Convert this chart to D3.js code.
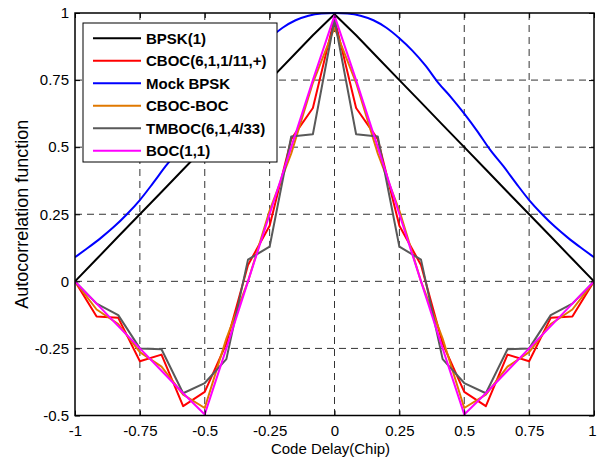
<!DOCTYPE html>
<html>
<head>
<meta charset="utf-8">
<script src="https://cdn.jsdelivr.net/npm/d3@7"></script>
<style>
  html, body { margin: 0; padding: 0; background: #fff; }
  svg { display: block; }
  text { font-family: "Liberation Sans", Arial, Helvetica, sans-serif; fill: #000; }
</style>
</head>
<body>
<svg id="chart" width="597" height="459"></svg>
<script>
// ---------------- DATA ----------------
// code delay samples (chip), 1/12-chip spacing
const delays = [-1, -0.9167, -0.8333, -0.75, -0.6667, -0.5833, -0.5, -0.4167, -0.3333, -0.25, -0.1667, -0.0833,
                0, 0.0833, 0.1667, 0.25, 0.3333, 0.4167, 0.5, 0.5833, 0.6667, 0.75, 0.8333, 0.9167, 1];

const bpsk   = [0, 0.083, 0.167, 0.25, 0.333, 0.417, 0.5, 0.583, 0.667, 0.75, 0.833, 0.917,
                0.995, 0.917, 0.833, 0.75, 0.667, 0.583, 0.5, 0.417, 0.333, 0.25, 0.167, 0.083, 0];
const cboc   = [0, -0.131, -0.136, -0.298, -0.273, -0.465, -0.412, -0.232, 0.061, 0.207, 0.530, 0.646,
                0.98, 0.646, 0.530, 0.207, 0.061, -0.232, -0.412, -0.465, -0.273, -0.298, -0.136, -0.131, 0];
const cbocBoc= [0, -0.105, -0.159, -0.264, -0.318, -0.422, -0.472, -0.213, 0, 0.264, 0.477, 0.740,
                0.945, 0.740, 0.477, 0.264, 0, -0.213, -0.472, -0.422, -0.318, -0.264, -0.159, -0.105, 0];
const tmboc  = [0, -0.083, -0.126, -0.250, -0.253, -0.417, -0.379, -0.290, 0.081, 0.129, 0.540, 0.548,
                0.975, 0.548, 0.540, 0.129, 0.081, -0.290, -0.379, -0.417, -0.253, -0.250, -0.126, -0.083, 0];
const boc11  = [0, -0.083, -0.167, -0.25, -0.333, -0.417, -0.496, -0.25, 0, 0.25, 0.5, 0.75,
                0.99, 0.75, 0.5, 0.25, 0, -0.25, -0.496, -0.417, -0.333, -0.25, -0.167, -0.083, 0];

// Mock BPSK sampled every 0.05 chip
const mockDelays = [-1, -0.95, -0.9, -0.85, -0.8, -0.75, -0.7, -0.65, -0.6, -0.55, -0.5, -0.45, -0.4, -0.35, -0.3,
                    -0.25, -0.2, -0.15, -0.1, -0.05, 0, 0.05, 0.1, 0.15, 0.2, 0.25, 0.3, 0.35, 0.4, 0.45, 0.5,
                    0.55, 0.6, 0.65, 0.7, 0.75, 0.8, 0.85, 0.9, 0.95, 1];
const mockBpsk   = [0.09, 0.125, 0.162, 0.203, 0.25, 0.303, 0.365, 0.43, 0.49, 0.56, 0.625, 0.685, 0.74, 0.805, 0.86,
                    0.906, 0.945, 0.973, 0.99, 0.998, 1.0, 0.998, 0.99, 0.973, 0.945, 0.906, 0.86, 0.805, 0.74, 0.685, 0.625,
                    0.56, 0.49, 0.43, 0.365, 0.303, 0.25, 0.203, 0.162, 0.125, 0.09];

const seriesNames  = ["BPSK(1)", "CBOC(6,1,1/11,+)", "Mock BPSK", "CBOC-BOC", "TMBOC(6,1,4/33)", "BOC(1,1)"];
const seriesColors = ["#000000", "#ff0000", "#0000ff", "#e07800", "#595959", "#ff00ff"];

const xTicks = [-1, -0.75, -0.5, -0.25, 0, 0.25, 0.5, 0.75, 1];
const xTickLabels = ["-1", "-0.75", "-0.5", "-0.25", "0", "0.25", "0.5", "0.75", "1"];
const yTicks = [-0.5, -0.25, 0, 0.25, 0.5, 0.75, 1];
const yTickLabels = ["-0.5", "-0.25", "0", "0.25", "0.5", "0.75", "1"];

const xLabel = "Code Delay(Chip)";
const yLabel = "Autocorrelation function";

// ---------------- CHART ----------------
const svg = d3.select("#chart");
const L = 75, R = 594, T = 13, B = 415.5;

const x = d3.scaleLinear().domain([-1, 1]).range([L, R]);
const y = d3.scaleLinear().domain([-0.5, 1]).range([B, T]);

// grid
const grid = svg.append("g");
grid.selectAll("line.vg").data(xTicks.slice(1, -1)).enter().append("line")
  .attr("x1", d => x(d)).attr("x2", d => x(d)).attr("y1", T).attr("y2", B)
  .attr("stroke", "#333").attr("stroke-width", 1).attr("stroke-dasharray", "7,5");
grid.selectAll("line.hg").data(yTicks.slice(1, -1)).enter().append("line")
  .attr("y1", d => y(d)).attr("y2", d => y(d)).attr("x1", L).attr("x2", R)
  .attr("stroke", "#333").attr("stroke-width", 1).attr("stroke-dasharray", "7,5");

// clip
svg.append("clipPath").attr("id", "clip").append("rect")
  .attr("x", L).attr("y", T - 2).attr("width", R - L).attr("height", B - T + 4);

const plot = svg.append("g").attr("clip-path", "url(#clip)");
const line = d3.line().x(d => x(d[0])).y(d => y(d[1]));
const smooth = d3.line().x(d => x(d[0])).y(d => y(d[1])).curve(d3.curveMonotoneX);

const series = [
  delays.map((d, i) => [d, bpsk[i]]),
  delays.map((d, i) => [d, cboc[i]]),
  mockDelays.map((d, i) => [d, mockBpsk[i]]),
  delays.map((d, i) => [d, cbocBoc[i]]),
  delays.map((d, i) => [d, tmboc[i]]),
  delays.map((d, i) => [d, boc11[i]])
];
series.forEach((s, i) => {
  plot.append("path").datum(s)
    .attr("d", i === 2 ? smooth : line)
    .attr("fill", "none").attr("stroke", seriesColors[i])
    .attr("stroke-width", 2).attr("stroke-linejoin", "round");
});

// axes
const axB = svg.append("g").attr("transform", `translate(0,${B})`)
  .call(d3.axisBottom(x).tickValues(xTicks).tickFormat((d, i) => xTickLabels[i]).tickSize(-5).tickPadding(10));
const axT = svg.append("g").attr("transform", `translate(0,${T})`)
  .call(d3.axisTop(x).tickValues(xTicks).tickFormat("").tickSize(-5));
const axL = svg.append("g").attr("transform", `translate(${L},0)`)
  .call(d3.axisLeft(y).tickValues(yTicks).tickFormat((d, i) => yTickLabels[i]).tickSize(-5).tickPadding(6));
const axR = svg.append("g").attr("transform", `translate(${R},0)`)
  .call(d3.axisRight(y).tickValues(yTicks).tickFormat("").tickSize(-5));
[axB, axT, axL, axR].forEach(a => {
  a.select(".domain").remove();
  a.selectAll("line").attr("stroke", "#000").attr("stroke-width", 1);
  a.selectAll("text").style("font-size", "15px").attr("fill", "#000");
});
// keep the last x tick label inside the picture
axB.selectAll(".tick").filter(d => d === 1).select("text")
  .attr("text-anchor", "end").attr("x", 597 - R - 1);

svg.append("rect").attr("x", L).attr("y", T).attr("width", R - L).attr("height", B - T)
  .attr("fill", "none").attr("stroke", "#000").attr("stroke-width", 1.5);

// axis titles
svg.append("text").attr("x", (L + R) / 2 - 4).attr("y", 454).attr("text-anchor", "middle")
  .style("font-size", "15px").text(xLabel);
svg.append("text").attr("transform", `translate(28,${(T + B) / 2}) rotate(-90)`).attr("text-anchor", "middle")
  .style("font-size", "18px").text(yLabel);

// legend
const lg = svg.append("g");
lg.append("rect").attr("x", 83).attr("y", 23).attr("width", 194).attr("height", 139)
  .attr("fill", "#fff").attr("stroke", "#000").attr("stroke-width", 1);
seriesNames.forEach((n, i) => {
  const yy = 38.3 + i * 22.5;
  lg.append("line").attr("x1", 93).attr("x2", 141).attr("y1", yy).attr("y2", yy)
    .attr("stroke", seriesColors[i]).attr("stroke-width", 2);
  lg.append("text").attr("x", 146).attr("y", yy).attr("dy", "0.36em")
    .style("font-size", "15px").style("font-weight", "bold").text(n);
});
</script>
</body>
</html>
